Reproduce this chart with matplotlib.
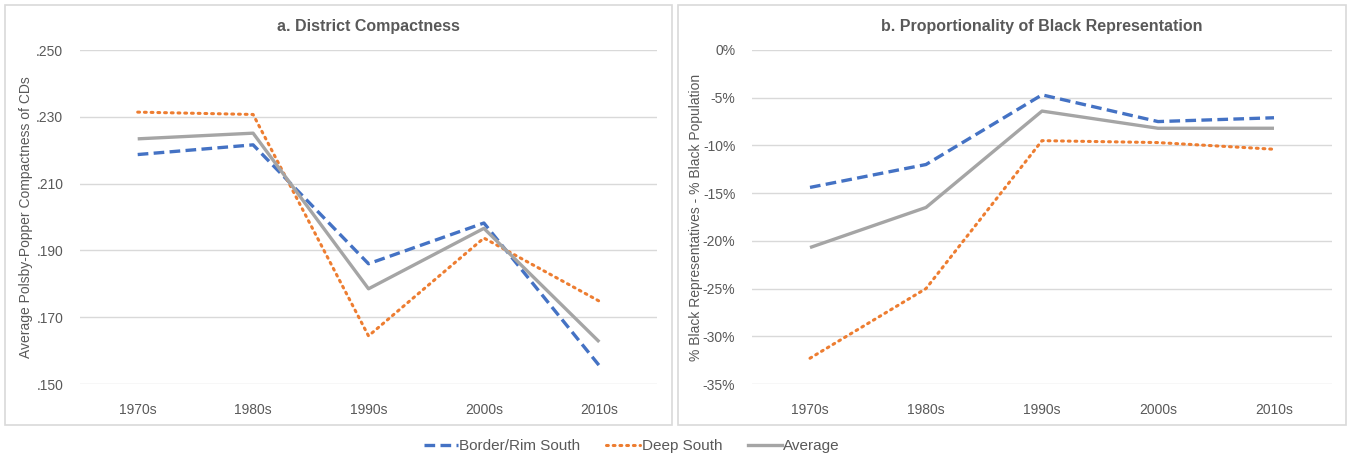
import numpy as np
import matplotlib
matplotlib.use("Agg")
import matplotlib.pyplot as plt
from matplotlib.patches import Rectangle
from matplotlib.lines import Line2D

plt.rcParams['font.family'] = ['Liberation Sans', 'DejaVu Sans']

decades = ["1970s", "1980s", "1990s", "2000s", "2010s"]

# a. District Compactness (avg Polsby-Popper)
comp_border = [0.2187, 0.2216, 0.1860, 0.1982, 0.1555]
comp_deep = [0.2314, 0.2307, 0.1644, 0.1937, 0.1748]
comp_avg = [0.2234, 0.2251, 0.1785, 0.1966, 0.1626]

# b. Proportionality of Black Representation (%)
prop_border = [-14.4, -12.0, -4.7, -7.5, -7.1]
prop_deep = [-32.3, -25.0, -9.5, -9.7, -10.4]
prop_avg = [-20.7, -16.5, -6.4, -8.2, -8.2]

blue = "#4472C4"
orange = "#ED7D31"
grey = "#A5A5A5"
text_col = "#595959"

fig = plt.figure(figsize=(13.51, 4.58), dpi=100)

# panel frames
for x0, w in [(5, 667), (678, 668)]:
    fig.patches.append(Rectangle((x0 / 1351, 1 - 425 / 458), w / 1351, 420 / 458,
                                 transform=fig.transFigure, fill=False,
                                 edgecolor="#D9D9D9", linewidth=1.2))

ax1 = fig.add_axes([80 / 1351, 1 - 384 / 458, 577 / 1351, 334 / 458])
ax2 = fig.add_axes([752 / 1351, 1 - 384 / 458, 580 / 1351, 334 / 458])

x = np.arange(len(decades))


def draw(ax, b, d, a):
    ax.plot(x, b, color=blue, lw=2.4, linestyle=(0, (3.2, 1.6)))
    ax.plot(x, d, color=orange, lw=2.2, linestyle=(0, (0.6, 1.6)), dash_capstyle="round")
    ax.plot(x, a, color=grey, lw=2.4, solid_capstyle="butt")
    ax.set_xlim(-0.5, 4.5)
    ax.set_xticks(x)
    ax.set_xticklabels(decades)
    for s in ax.spines.values():
        s.set_visible(False)
    ax.grid(axis="y", color="#D9D9D9", linewidth=1)
    ax.set_axisbelow(True)
    ax.tick_params(length=0, labelsize=10, colors=text_col, pad=12)
    ax.tick_params(axis="x", pad=14)


draw(ax1, comp_border, comp_deep, comp_avg)
ax1.set_ylim(0.15, 0.25)
ax1.set_yticks(np.arange(0.15, 0.2501, 0.02))
ax1.set_yticklabels([".150", ".170", ".190", ".210", ".230", ".250"])
ax1.set_ylabel("Average Polsby-Popper Compactness of CDs", fontsize=10, color=text_col, labelpad=2)
ax1.set_title("a. District Compactness", fontsize=11.5, fontweight="bold", color=text_col, pad=14)

draw(ax2, prop_border, prop_deep, prop_avg)
ax2.set_ylim(-35, 0)
ax2.set_yticks(np.arange(-35, 1, 5))
ax2.set_yticklabels([f"{v}%" for v in range(-35, 1, 5)])
ax2.set_ylabel("% Black Representatives - % Black Population", fontsize=10, color=text_col, labelpad=0)
ax2.set_title("b. Proportionality of Black Representation", fontsize=11.5, fontweight="bold", color=text_col, pad=14)

handles = [
    Line2D([], [], color=blue, lw=2.4, linestyle=(0, (3.2, 1.6))),
    Line2D([], [], color=orange, lw=2.2, linestyle=(0, (0.6, 1.6)), dash_capstyle="round"),
    Line2D([], [], color=grey, lw=2.4),
]
fig.legend(handles, ["Border/Rim South", "Deep South", "Average"], loc="center",
           bbox_to_anchor=(632 / 1351, 1 - 446 / 458), ncol=3, frameon=False,
           fontsize=11, handlelength=2.2, handletextpad=0.1, columnspacing=1.7,
           labelcolor=text_col)

fig.savefig("out.png", dpi=100, facecolor="white")
